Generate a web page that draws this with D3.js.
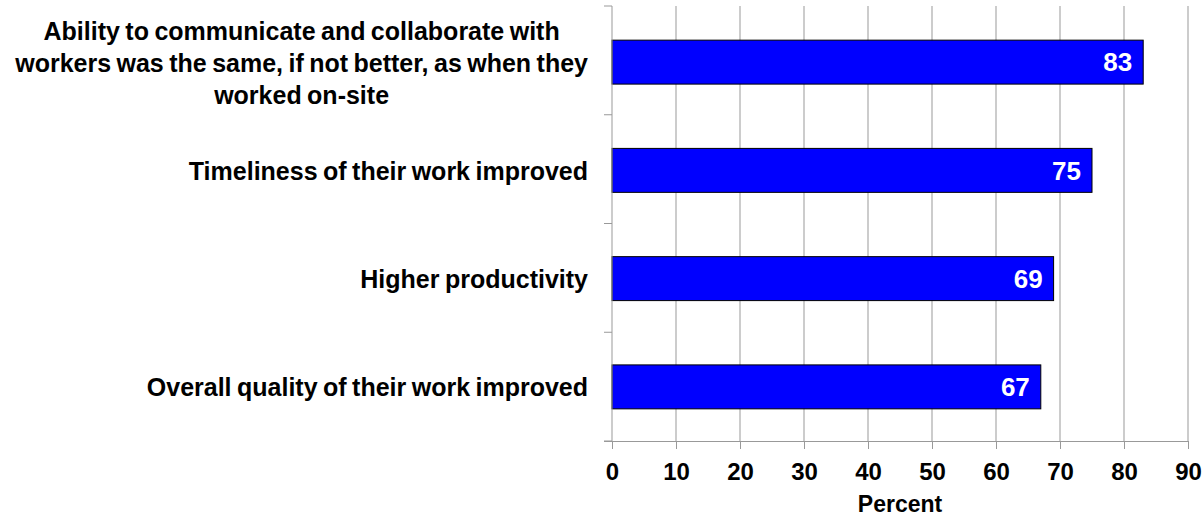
<!DOCTYPE html>
<html>
<head>
<meta charset="utf-8">
<script src="https://cdn.jsdelivr.net/npm/d3@7"></script>
<style>
  html, body { margin: 0; padding: 0; background: #fff; }
  svg { display: block; }
  text { font-family: "Liberation Sans", Arial, sans-serif; font-weight: bold; }
</style>
</head>
<body>
<svg id="chart" width="1204" height="518"></svg>
<script>
// Survey results: share of respondents agreeing with each statement
const categories = [
  ["Ability to communicate and collaborate with", "workers was the same, if not better, as when they", "worked on-site"],
  ["Timeliness of their work improved"],
  ["Higher productivity"],
  ["Overall quality of their work improved"]
];
const values = [83, 75, 69, 67];
const xTicks = [0, 10, 20, 30, 40, 50, 60, 70, 80, 90];
const xTitle = "Percent";

const width = 1204, height = 518;
const plotLeft = 612, plotRight = 1188, plotTop = 6, plotBottom = 441;
const svg = d3.select("#chart");

const x = d3.scaleLinear().domain([0, 90]).range([plotLeft, plotRight]);
const y = d3.scaleBand()
  .domain(d3.range(categories.length))
  .range([8, plotBottom])
  .paddingInner(0.594).paddingOuter(0.297);

const gridColor = "#999";

// vertical gridlines
svg.append("g").selectAll("line")
  .data(xTicks.slice(1))
  .join("line")
  .attr("x1", d => x(d)).attr("x2", d => x(d))
  .attr("y1", plotTop).attr("y2", plotBottom)
  .attr("stroke", gridColor).attr("stroke-width", 1);

// bars
svg.append("g").selectAll("rect")
  .data(values)
  .join("rect")
  .attr("x", x(0))
  .attr("y", (d, i) => y(i))
  .attr("width", d => x(d) - x(0))
  .attr("height", y.bandwidth())
  .attr("fill", "#0000ff")
  .attr("stroke", "#000")
  .attr("stroke-width", 1);

// value labels inside bar ends
svg.append("g").selectAll("text")
  .data(values)
  .join("text")
  .attr("x", d => x(d) - 11)
  .attr("y", (d, i) => y(i) + y.bandwidth() / 2)
  .attr("dy", "0.36em")
  .attr("text-anchor", "end")
  .attr("fill", "#fff")
  .attr("font-size", 26)
  .text(d => d);

// x axis
const xAxis = d3.axisBottom(x).tickValues(xTicks).tickSize(8).tickPadding(14);
const gx = svg.append("g").attr("transform", `translate(0,${plotBottom})`).call(xAxis);
gx.select(".domain").attr("stroke", gridColor).attr("d", `M${plotLeft - 8},0.5H${x(90)}`);
gx.selectAll(".tick line").attr("stroke", gridColor);
gx.selectAll(".tick text").attr("fill", "#000").attr("font-size", 24)
  .attr("font-family", "'Liberation Sans', Arial, sans-serif").attr("font-weight", "bold");

// y axis with ticks at category boundaries
const boundaries = d3.range(categories.length + 1).map(i => plotTop + i * (plotBottom - plotTop) / categories.length);
const gy = svg.append("g");
gy.append("line")
  .attr("x1", plotLeft).attr("x2", plotLeft)
  .attr("y1", plotTop).attr("y2", plotBottom)
  .attr("stroke", gridColor);
gy.selectAll("line.tk")
  .data(boundaries)
  .join("line").attr("class", "tk")
  .attr("x1", plotLeft - 8).attr("x2", plotLeft)
  .attr("y1", d => d).attr("y2", d => d)
  .attr("stroke", gridColor);

// category labels: lines centred on each other, block right-aligned near the axis
const labelRight = 588, lineH = 32;
const labels = svg.append("g");
categories.forEach((lines, i) => {
  const cy = y(i) + y.bandwidth() / 2;
  const t = labels.append("text")
    .attr("font-size", 25)
    .attr("word-spacing", -1.5)
    .attr("fill", "#000");
  lines.forEach((ln, j) => {
    t.append("tspan").text(ln)
      .attr("y", cy + (j - (lines.length - 1) / 2) * lineH)
      .attr("dy", "0.38em");
  });
  const spans = t.selectAll("tspan").nodes();
  const maxW = d3.max(spans, s => s.getComputedTextLength());
  const cx = labelRight - maxW / 2;
  t.attr("text-anchor", "middle");
  t.selectAll("tspan").attr("x", cx);
});

// axis title
svg.append("text")
  .attr("x", (x(0) + x(90)) / 2)
  .attr("y", 512)
  .attr("text-anchor", "middle")
  .attr("font-size", 23)
  .text(xTitle);
</script>
</body>
</html>
